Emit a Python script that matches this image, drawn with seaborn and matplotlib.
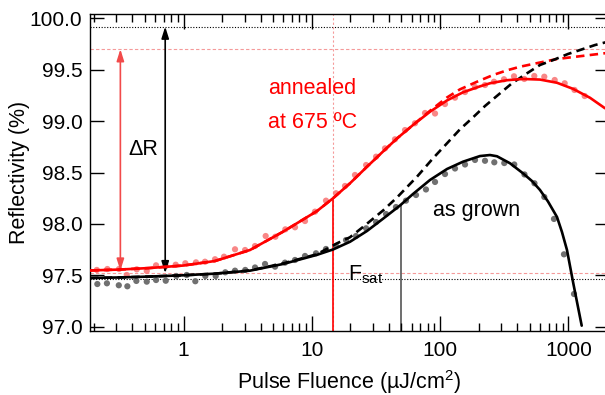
import matplotlib
matplotlib.use("Agg")
import matplotlib.pyplot as plt
from matplotlib.ticker import FixedLocator, LogLocator, NullFormatter, FuncFormatter, FormatStrFormatter
import seaborn as sns

grown_F = [0.213, 0.253, 0.313, 0.365, 0.429, 0.517, 0.611, 0.727, 0.879, 1.059,
           1.236, 1.479, 1.782, 2.118, 2.52, 3.03, 3.61, 4.32, 5.17, 6.18,
           7.40, 8.85, 10.78, 12.9, 15.44, 18.48, 22.1, 26.5, 31.7, 37.9,
           45.3, 54.2, 64.9, 77.6, 91.3, 109.2, 130.7, 156.4, 187.1, 223.9,
           264.6, 316.5, 378.7, 454.8, 544.2, 649.0, 772.1, 923.9, 1106]
grown_R = [97.415, 97.422, 97.403, 97.393, 97.445, 97.438, 97.454, 97.447, 97.493, 97.503,
           97.442, 97.493, 97.493, 97.529, 97.545, 97.552, 97.576, 97.610, 97.584, 97.623,
           97.649, 97.688, 97.714, 97.756, 97.785, 97.843, 97.882, 97.957, 98.018, 98.096,
           98.164, 98.226, 98.281, 98.335, 98.408, 98.485, 98.539, 98.578, 98.622, 98.614,
           98.599, 98.592, 98.578, 98.481, 98.395, 98.262, 98.048, 97.704, 97.318]

annealed_F = [0.211, 0.255, 0.314, 0.361, 0.432, 0.517, 0.611, 0.727, 0.869, 1.033,
              1.251, 1.471, 1.760, 2.069, 2.52, 3.02, 3.61, 4.37, 5.20, 6.22,
              7.40, 8.85, 10.59, 12.9, 15.44, 18.15, 21.7, 26.5, 31.7, 37.2,
              44.5, 53.3, 63.7, 76.3, 91.3, 109.2, 130.7, 156.4, 187.1, 223.9,
              263.1, 314.8, 376.7, 453.2, 542.3, 649.0, 781.9, 935.9, 1116, 1340]
annealed_R = [97.552, 97.561, 97.561, 97.503, 97.558, 97.542, 97.597, 97.590, 97.603, 97.617,
              97.626, 97.632, 97.656, 97.681, 97.753, 97.746, 97.785, 97.882, 97.875, 97.947,
              97.967, 98.028, 98.119, 98.226, 98.298, 98.369, 98.476, 98.573, 98.654, 98.735,
              98.823, 98.913, 98.979, 99.079, 99.074, 99.166, 99.228, 99.283, 99.332, 99.351,
              99.383, 99.407, 99.436, 99.410, 99.439, 99.432, 99.400, 99.368, 99.303, 99.244]

# ── Fit curves ──────────────────────────────────────────────────────────
grown_fit_F = [0.187, 0.32, 0.548, 1.0, 1.76, 3.3, 5.97, 8.09, 10.98, 14.63,
               19.85, 26.93, 35.89, 48.7, 61.5, 83.4, 113.2, 150.8, 204.6, 244.8,
               277.6, 350.5, 442.9, 520.3, 600.8, 693.4, 815.2, 891.3, 975.2, 1092, 1270]
grown_fit_R = [97.474, 97.479, 97.488, 97.500, 97.516, 97.545, 97.610, 97.654, 97.699, 97.751,
               97.826, 97.931, 98.050, 98.179, 98.291, 98.427, 98.534, 98.605, 98.660, 98.670,
               98.658, 98.590, 98.492, 98.417, 98.330, 98.218, 98.067, 97.921, 97.746, 97.422, 97.010]

grown_sat_F = [0.187, 0.32, 0.548, 1.0, 1.76, 3.3, 5.97, 10.98, 15.72, 19.85,
               25.07, 35.89, 46.14, 66.07, 88.05, 113.2, 142.9, 177.3, 223.9, 293.0,
               363.4, 475.6, 600.8, 786.2, 992.9, 1276, 1612, 2073]
grown_sat_R = [97.474, 97.479, 97.488, 97.500, 97.516, 97.547, 97.615, 97.705, 97.811, 97.870,
               97.970, 98.130, 98.257, 98.459, 98.638, 98.784, 98.920, 99.027, 99.147, 99.270,
               99.368, 99.465, 99.546, 99.601, 99.653, 99.698, 99.740, 99.775]

annealed_fit_F = [0.187, 0.32, 0.548, 1.0, 1.76, 3.3, 5.97, 10.98, 14.63, 19.85,
                  26.93, 35.89, 46.14, 61.5, 83.4, 113.2, 150.8, 204.6, 244.8, 332.2,
                  442.9, 600.8, 815.2, 1086, 1474, 1929]
annealed_fit_R = [97.547, 97.556, 97.571, 97.595, 97.639, 97.746, 97.924, 98.125, 98.249, 98.395,
                  98.556, 98.704, 98.831, 98.962, 99.091, 99.201, 99.280, 99.338, 99.368, 99.398,
                  99.410, 99.404, 99.373, 99.314, 99.227, 99.125]

annealed_sat_F = [0.187, 0.32, 0.548, 1.0, 1.76, 3.3, 5.97, 10.98, 14.63, 19.85,
                  26.93, 35.89, 46.14, 61.5, 83.4, 113.2, 142.9, 193.9, 258.4, 332.2,
                  419.6, 600.8, 815.2, 1086, 1474, 2073]
annealed_sat_R = [97.547, 97.556, 97.571, 97.595, 97.639, 97.746, 97.924, 98.125, 98.249, 98.395,
                  98.556, 98.704, 98.831, 98.962, 99.100, 99.230, 99.309, 99.383, 99.448, 99.494,
                  99.529, 99.570, 99.604, 99.623, 99.643, 99.665]

# ── Reference levels and markers ────────────────────────────────────────
R_ns_grown, R_lin_grown = 99.92, 97.46
R_ns_annealed, R_lin_annealed = 99.70, 97.52
F_mark_annealed, R_mark_annealed = 14.7, 98.25
F_sat, R_sat = 49.3, 98.185
F_arrow_annealed, F_arrow_grown = 0.322, 0.72
y_ticks = [97.0, 97.5, 98.0, 98.5, 99.0, 99.5, 100.0]
x_ticks = [1, 10, 100, 1000]

RED = "#ff0000"
PINK = "#f59a9a"

sns.set_theme(style="ticks")
plt.rcParams.update({
    "font.family": ["Liberation Sans", "DejaVu Sans"],
    "mathtext.fontset": "custom", "mathtext.rm": "Liberation Sans",
    "axes.axisbelow": False,
    "xtick.direction": "in", "ytick.direction": "in",
    "xtick.top": True, "ytick.right": True,
    "xtick.major.size": 11, "xtick.minor.size": 5.5, "ytick.major.size": 10,
    "xtick.color": "black", "ytick.color": "black",
    "xtick.major.width": 1.0, "xtick.minor.width": 1.0, "ytick.major.width": 1.0,
    "xtick.major.pad": 7, "ytick.major.pad": 5.5,
    "xtick.labelsize": 15, "ytick.labelsize": 15,
    "axes.edgecolor": "black", "axes.linewidth": 1.0,
    "axes.labelcolor": "black", "text.color": "black",
})

fig = plt.figure(figsize=(6.05, 3.95), dpi=100)
ax = fig.add_axes([90 / 605, 64 / 395, 519 / 605, 317 / 395])
ax.set_xscale("log")

# reference lines
ax.axhline(R_ns_grown, color="black", lw=0.8, ls=(0, (1, 1.5)), zorder=1)
ax.axhline(R_lin_grown, color="black", lw=0.8, ls=(0, (1, 1.5)), zorder=1)
ax.axhline(R_ns_annealed, color=PINK, lw=0.8, ls=(0, (3, 2)), zorder=1)
ax.axhline(R_lin_annealed, color=PINK, lw=0.8, ls=(0, (3, 2)), zorder=1)
ax.axvline(F_mark_annealed, color=PINK, lw=0.8, ls=(0, (2, 2)), zorder=1)
ax.vlines(F_mark_annealed, 96.9, R_mark_annealed, color=RED, lw=1.2, zorder=2)
ax.vlines(F_sat, 96.9, R_sat, color="#555555", lw=1.2, zorder=2)

# data points
sns.scatterplot(x=annealed_F, y=annealed_R, color="#f87a7a", s=20, edgecolor="none",
                alpha=0.9, ax=ax, zorder=3)
sns.scatterplot(x=grown_F, y=grown_R, color="#707070", s=20, edgecolor="none",
                ax=ax, zorder=3)

# fits
for F, R, col, dashed in [(annealed_sat_F, annealed_sat_R, RED, True),
                          (grown_sat_F, grown_sat_R, "black", True),
                          (annealed_fit_F, annealed_fit_R, RED, False),
                          (grown_fit_F, grown_fit_R, "black", False)]:
    sns.lineplot(x=F, y=R, color=col, lw=1.9, estimator=None, sort=False, ax=ax, zorder=4)
    if dashed:
        ax.lines[-1].set_dashes((3.2, 2.0))

# ΔR arrows
arrow = "<|-|>,head_length=0.7,head_width=0.22"
ax.annotate("", xy=(F_arrow_annealed, R_ns_annealed), xytext=(F_arrow_annealed, 97.545),
            arrowprops=dict(arrowstyle=arrow, color="#f24a4a", lw=1.2, shrinkA=0, shrinkB=0,
                            mutation_scale=10))
ax.annotate("", xy=(F_arrow_grown, R_ns_grown), xytext=(F_arrow_grown, R_lin_annealed),
            arrowprops=dict(arrowstyle=arrow, color="black", lw=1.2, shrinkA=0, shrinkB=0,
                            mutation_scale=10))

# labels inside the plot
ax.text(0.369, 98.72, "ΔR", fontsize=15.5, va="center", ha="left")
ax.text(4.56, 99.322, "annealed", color=RED, fontsize=15.5, va="center", ha="left")
ax.text(4.56, 98.991, "at 675 ºC", color=RED, fontsize=15.5, va="center", ha="left")
ax.text(88.0, 98.135, "as grown", fontsize=15.5, va="center", ha="left")
ax.text(19.15, 97.455, r"F$\mathregular{_{sat}}$", fontsize=15.5, va="baseline", ha="left")

# axes
ax.xaxis.set_major_locator(FixedLocator(x_ticks))
ax.xaxis.set_major_formatter(FuncFormatter(lambda v, p: f"{v:g}"))
ax.xaxis.set_minor_locator(LogLocator(base=10, subs=[2, 3, 4, 5, 6, 7, 8, 9], numticks=20))
ax.xaxis.set_minor_formatter(NullFormatter())
ax.yaxis.set_major_locator(FixedLocator(y_ticks))
ax.yaxis.set_major_formatter(FormatStrFormatter("%.1f"))
ax.set_xlim(0.1867, 2073)
ax.set_ylim(96.958, 100.042)
ax.tick_params(which="both", direction="in", top=True, right=True, color="black")
ax.set_axisbelow(False)
ax.xaxis.set_zorder(6)
ax.yaxis.set_zorder(6)

ax.set_xlabel(r"Pulse Fluence (µJ/cm$\mathregular{^2}$)", fontsize=15.5, labelpad=6)
ax.set_ylabel("Reflectivity (%)", fontsize=15.5, labelpad=0)

fig.savefig("out.png", dpi=100)
